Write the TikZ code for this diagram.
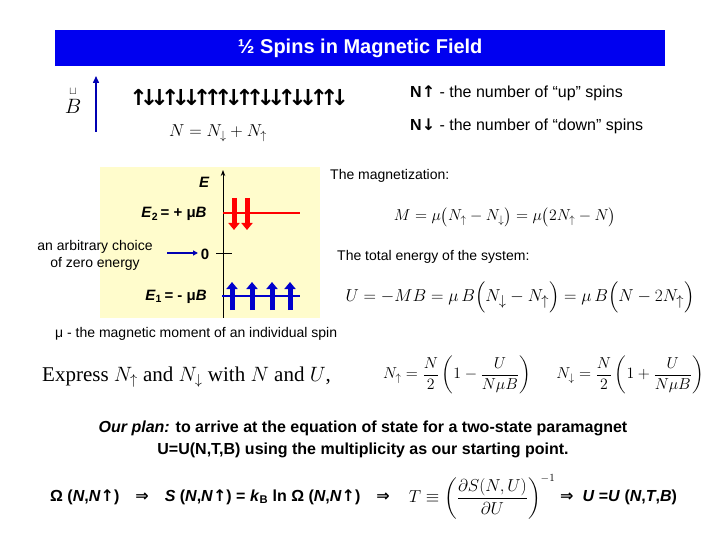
\documentclass[tikz,border=0pt]{standalone}
\usepackage{amsmath}
\usepackage{graphicx}
\usepackage{fontspec}
\setmainfont{Liberation Sans}
\newfontfamily\serifr{Liberation Serif}
\newfontfamily\dv{DejaVu Sans}
\usetikzlibrary{arrows.meta}
\newcommand\ab[1]{\makebox[10.6pt]{#1}}
\begin{document}
\begin{tikzpicture}[x=1pt,y=-1pt,
  txt/.style={font=\fontsize{15}{17}\selectfont,inner sep=0pt},
  eq/.style={font=\fontsize{16}{18}\selectfont,inner sep=0pt},
  upa/.style={blue!80!black,line width=5pt,-{Triangle[length=7pt,width=11pt]}},
  dna/.style={red,line width=5pt,-{Triangle[length=7pt,width=11pt]}}]
\useasboundingbox (0,0) rectangle (720,540);
\fill[white] (0,0) rectangle (720,540);
\node[fill={rgb,255:red,0;green,0;blue,240},minimum width=610pt,minimum height=36pt,anchor=north west,inner sep=0pt,text=white,font=\bfseries\fontsize{20}{22}\selectfont] (title) at (55,30) {½ Spins in Magnetic Field};
% B
\node[eq,font=\fontsize{22}{24}\selectfont] (B) at (73,100) {$\overset{\scriptscriptstyle\sqcup}{B}$};
\coordinate (b0) at (96,132); \coordinate (b1) at (96,76);
\draw[blue!70!black,line width=1.5pt,-{Triangle[length=7pt,width=6pt]}] (b0) -- (b1);
\node[inner sep=0pt,anchor=west,font=\dv\bfseries\fontsize{22}{22}\selectfont] (seq) at (133,97) {\ab↑\ab↓\ab↓\ab↑\ab↓\ab↓\ab↑\ab↑\ab↑\ab↓\ab↑\ab↑\ab↓\ab↓\ab↑\ab↓\ab↓\ab↑\ab↑\ab↓};
\node[txt,anchor=west,font=\fontsize{16}{18}\selectfont] (nup) at (410,93) {\textbf{N{\dv↑}} - the number of “up” spins};
\node[txt,anchor=west,font=\fontsize{16}{18}\selectfont] (ndn) at (410,126) {\textbf{N{\dv↓}} - the number of “down” spins};
\node[eq,font=\fontsize{17}{18}\selectfont] (Neq) at (218,133) {$N = N_{\downarrow} + N_{\uparrow}$};
% yellow panel
\fill[yellow!20] (100,167) rectangle (320,318);
\coordinate (ax0) at (223,318); \coordinate (ax1) at (223,170);
\draw[line width=1pt,-{Stealth[length=6pt]}] (ax0) -- (ax1);
\node[txt,font=\bfseries\itshape\fontsize{15}{17}\selectfont] (E) at (204,182) {E};
\coordinate (t0) at (216,253); \coordinate (t1) at (232,253);
\draw (t0) -- (t1);
\node[txt,font=\bfseries\fontsize{15}{17}\selectfont] (zero) at (205,254) {0};
\coordinate (r0) at (223,213); \coordinate (r1) at (300,213);
\draw[red,line width=2pt] (r0) -- (r1);
\coordinate (d1a) at (234,198); \coordinate (d1b) at (234,230);
\coordinate (d2a) at (247,198); \coordinate (d2b) at (247,230);
\draw[dna] (d1a) -- (d1b); \draw[dna] (d2a) -- (d2b);
\node[txt,font=\bfseries\fontsize{15}{17}\selectfont] (E2) at (174,214) {\textit{E}\textsubscript{2}\,= + μ\textit{B}};
\coordinate (g0) at (222,296); \coordinate (g1) at (300,296);
\draw[blue!80!black,line width=2pt] (g0) -- (g1);
\foreach \x/\n in {232/a,252/b,272/c,290/d}{
  \coordinate (u\n0) at (\x,310); \coordinate (u\n1) at (\x,282);
  \draw[upa] (u\n0) -- (u\n1);}
\node[txt,font=\bfseries\fontsize{15}{17}\selectfont] (E1) at (176,297) {\textit{E}\textsubscript{1}\,= - μ\textit{B}};
\node[txt,align=center,font=\fontsize{14}{17}\selectfont] (arb) at (95,255) {an arbitrary choice\\of zero energy};
\coordinate (a0) at (167,253); \coordinate (a1) at (198,253);
\draw[blue!70!black,line width=1.2pt,-{Triangle[length=5pt,width=5pt]}] (a0) -- (a1);
% right texts
\node[txt,anchor=west,font=\fontsize{14}{16}\selectfont] (mag) at (330,176) {The magnetization:};
\node[eq,font=\fontsize{14}{18}\selectfont] (Meq) at (505,217) {\scalebox{1.1}{$M = \mu\bigl(N_{\uparrow} - N_{\downarrow}\bigr) = \mu\bigl(2N_{\uparrow} - N\bigr)$}};
\node[txt,anchor=west,font=\fontsize{14}{16}\selectfont] (tot) at (337,257) {The total energy of the system:};
\node[eq,font=\fontsize{19}{21}\selectfont] (Ueq) at (520,297) {$U = -MB = \mu\,B\Bigl(N_{\downarrow} - N_{\uparrow}\Bigr) = \mu\,B\Bigl(N - 2N_{\uparrow}\Bigr)$};
\node[txt,anchor=west,font=\fontsize{14}{16}\selectfont] (mu) at (55,334) {μ - the magnetic moment of an individual spin};
\node[eq,anchor=west,font=\serifr\fontsize{21}{22}\selectfont] (expr) at (42,377) {Express $N_{\uparrow}$ and $N_{\downarrow}$ with $N$ and $U$,};
\node[eq,font=\fontsize{14}{18}\selectfont] (nupf) at (457,375) {\scalebox{1.1}{$N_{\uparrow} = \dfrac{N}{2}\left(1 - \dfrac{U}{N\mu B}\right)$}};
\node[eq,font=\fontsize{14}{18}\selectfont] (ndnf) at (630,375) {\scalebox{1.1}{$N_{\downarrow} = \dfrac{N}{2}\left(1 + \dfrac{U}{N\mu B}\right)$}};
\node[txt,align=center,font=\bfseries\fontsize{16}{22}\selectfont] (plan) at (363,439) {\textit{Our plan:} to arrive at the equation of state for a two-state paramagnet\\U=U(N,T,B) using the multiplicity as our starting point.};
% bottom chain
\node[txt,anchor=west,font=\bfseries\fontsize{16}{18}\selectfont] (chain) at (50,497) {Ω (\textit{N},\textit{N}{\dv↑})\quad {\dv ⇒}\quad \textit{S} (\textit{N},\textit{N}{\dv↑}) = \textit{k}\textsubscript{B} ln Ω (\textit{N},\textit{N}{\dv↑})\quad {\dv ⇒}};
\node[eq,font=\fontsize{16}{18}\selectfont] (Tf) at (482,497) {$T \equiv \left(\dfrac{\partial S(N,U)}{\partial U}\right)^{-1}$};
\node[txt,anchor=west,font=\bfseries\fontsize{16}{18}\selectfont] (U) at (560,497) {{\dv ⇒}\ \ \textit{U} =\textit{U} (\textit{N},\textit{T},\textit{B})};
\end{tikzpicture}
\end{document}
